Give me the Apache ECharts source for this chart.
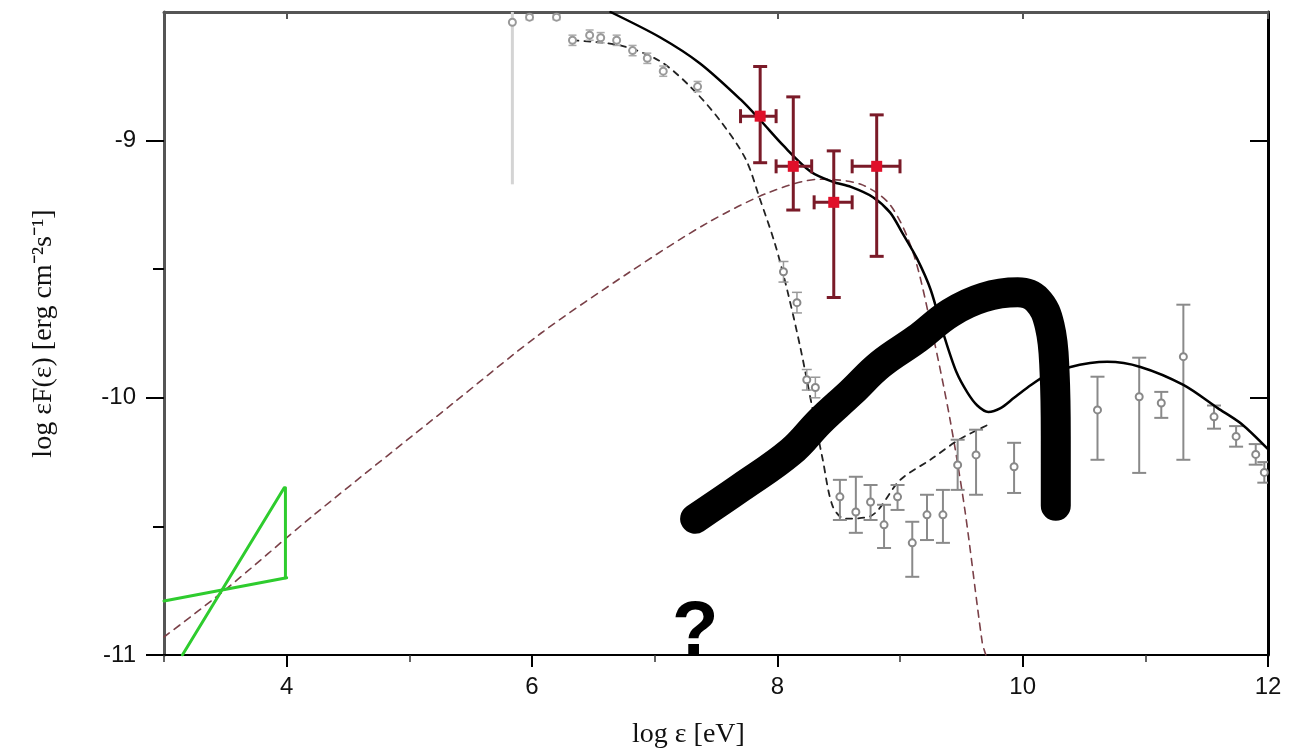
<!DOCTYPE html>
<html>
<head>
<meta charset="utf-8">
<script src="https://cdn.jsdelivr.net/npm/echarts@6/dist/echarts.min.js"></script>
<style>
html,body{margin:0;padding:0;background:#fff;}
#chart{width:1291px;height:750px;}
</style>
</head>
<body>
<div id="chart"></div>
<script>
// ---------- axis ticks ----------
const xMajorTicks = [4, 6, 8, 10, 12];
const xMinorTicks = [3, 5, 7, 9, 11];
const yMajorTicks = [-11, -10, -9];
const yMinorTicks = [-10.5, -9.5];

// ---------- model curves [log eps, log eF] ----------
const totalModel = [
  [6.64,-8.50],[7.05,-8.60],[7.37,-8.70],[7.70,-8.84],[7.86,-8.92],[8.05,-9.02],[8.27,-9.12],
  [8.45,-9.16],[8.60,-9.18],[8.78,-9.22],[8.92,-9.28],[9.02,-9.36],[9.14,-9.46],[9.25,-9.58],
  [9.36,-9.76],[9.46,-9.90],[9.55,-9.98],[9.63,-10.03],[9.72,-10.055],[9.82,-10.04],
  [9.93,-10.00],[10.04,-9.96],[10.20,-9.91],[10.39,-9.88],[10.55,-9.865],[10.69,-9.86],
  [10.96,-9.88],[11.31,-9.95],[11.59,-10.04],[11.78,-10.10],[12.0,-10.20]
];
const syncModel = [
  [6.33,-8.61],[6.72,-8.63],[7.04,-8.69],[7.29,-8.79],[7.53,-8.92],[7.74,-9.07],[7.86,-9.23],
  [7.98,-9.40],[8.08,-9.58],[8.19,-9.81],[8.29,-10.05],[8.37,-10.24],[8.45,-10.42],
  [8.55,-10.47],[8.76,-10.46],[9.00,-10.32],[9.25,-10.24],[9.49,-10.16],[9.74,-10.10]
];
const icModel = [
  [3.00,-10.93],[3.49,-10.75],[4.21,-10.46],[5.36,-10.02],[6.07,-9.75],[6.80,-9.51],
  [7.43,-9.32],[7.94,-9.20],[8.35,-9.15],[8.68,-9.17],[8.92,-9.25],[9.11,-9.44],
  [9.27,-9.76],[9.41,-10.09],[9.53,-10.44],[9.67,-10.95],[9.70,-11.0]
];
// ---------- thick sensitivity band ----------
const sensitivityBand = [
  [7.33,-10.47],[7.70,-10.35],[8.11,-10.21],[8.35,-10.09],[8.60,-9.98],[8.84,-9.87],
  [9.14,-9.77],[9.41,-9.67],[9.68,-9.61],[9.96,-9.59],[10.12,-9.62],[10.22,-9.72],
  [10.26,-9.90],[10.27,-10.15],[10.27,-10.42]
];
// ---------- green bowtie ----------
const bowtieFlat = [[3.00,-10.79],[4.00,-10.70]];
const bowtieSteep = [[3.15,-11.0],[3.98,-10.35]];
const bowtieEdge = [[3.99,-10.35],[3.99,-10.70]];

// ---------- red data points [x, y, ylo, yhi, xlo, xhi] ----------
const redPoints = [
  [7.86,-8.905,-9.086,-8.712,7.70,7.99],
  [8.13,-9.10,-9.27,-8.83,7.99,8.28],
  [8.46,-9.24,-9.61,-9.04,8.30,8.61],
  [8.81,-9.10,-9.45,-8.90,8.61,9.00]
];
// ---------- grey data points [x, y, ylo, yhi] ----------
const greyTop = [
  [5.98,-8.52,-8.53,-8.51],[6.20,-8.52,-8.53,-8.51],[6.33,-8.61,-8.63,-8.59],
  [6.47,-8.59,-8.61,-8.57],[6.56,-8.60,-8.62,-8.58],[6.69,-8.61,-8.63,-8.59],
  [6.82,-8.65,-8.67,-8.63],[6.94,-8.68,-8.70,-8.66],[7.07,-8.73,-8.75,-8.71],
  [7.35,-8.79,-8.81,-8.77]
];
const greyLimit = [[5.84,-8.54,-9.17,-8.50]];
const greyMid = [
  [8.05,-9.51,-9.55,-9.47],[8.16,-9.63,-9.67,-9.59],[8.24,-9.93,-9.97,-9.89],[8.31,-9.96,-10.0,-9.92]
];
const greyLow = [
  [8.51,-10.385,-10.475,-10.319],[8.64,-10.444,-10.525,-10.307],[8.76,-10.405,-10.475,-10.339],
  [8.87,-10.494,-10.584,-10.416],[8.98,-10.385,-10.436,-10.339],[9.10,-10.564,-10.696,-10.482],
  [9.22,-10.455,-10.553,-10.377],[9.35,-10.455,-10.564,-10.358],[9.47,-10.261,-10.358,-10.163],
  [9.62,-10.222,-10.377,-10.124],[9.93,-10.268,-10.370,-10.175]
];
const greyHigh = [
  [10.61,-10.047,-10.241,-9.918],[10.95,-9.996,-10.292,-9.844],[11.13,-10.02,-10.078,-9.977],
  [11.31,-9.84,-10.241,-9.638],[11.56,-10.074,-10.12,-10.03],[11.74,-10.15,-10.19,-10.11],
  [11.90,-10.22,-10.26,-10.18],[11.97,-10.29,-10.33,-10.25]
];
const questionMark = [[7.33,-11.0]];

// ---------- helpers ----------
function errorBarSeries(data, color, width, cap, z) {
  return {
    type: 'custom', data: data, z: z || 3, silent: true, clip: true,
    renderItem: function (params, api) {
      const x = api.value(0), y = api.value(1), ylo = api.value(2), yhi = api.value(3);
      const children = [];
      const pLo = api.coord([x, ylo]), pHi = api.coord([x, yhi]);
      const st = {stroke: color, lineWidth: width};
      children.push({type:'line', shape:{x1:pLo[0],y1:pLo[1],x2:pHi[0],y2:pHi[1]}, style:st});
      if (cap > 0) {
        children.push({type:'line', shape:{x1:pLo[0]-cap,y1:pLo[1],x2:pLo[0]+cap,y2:pLo[1]}, style:st});
        children.push({type:'line', shape:{x1:pHi[0]-cap,y1:pHi[1],x2:pHi[0]+cap,y2:pHi[1]}, style:st});
      }
      const xlo = api.value(4), xhi = api.value(5);
      if (xlo !== undefined && xlo !== null && !isNaN(xlo)) {
        const qLo = api.coord([xlo, y]), qHi = api.coord([xhi, y]);
        children.push({type:'line', shape:{x1:qLo[0],y1:qLo[1],x2:qHi[0],y2:qHi[1]}, style:st});
        children.push({type:'line', shape:{x1:qLo[0],y1:qLo[1]-cap,x2:qLo[0],y2:qLo[1]+cap}, style:st});
        children.push({type:'line', shape:{x1:qHi[0],y1:qHi[1]-cap,x2:qHi[0],y2:qHi[1]+cap}, style:st});
      }
      return {type:'group', children: children};
    },
    encode: {x: 0, y: 1}
  };
}
function pointSeries(data, symbol, size, color, z) {
  return {
    type: 'scatter', data: data.map(d => [d[0], d[1]]), symbol: symbol, symbolSize: size, z: z || 4,
    itemStyle: {color: color, borderWidth: 1.5, opacity: 1}, silent: true
  };
}
function lineSeries(data, color, width, type, z, smooth) {
  return {
    type: 'line', data: data, showSymbol: false, symbol: 'none', smooth: smooth === undefined ? 0.3 : smooth, z: z || 2,
    lineStyle: {color: color, width: width, type: type || 'solid', cap: 'round', join: 'round'}, silent: true
  };
}

const chart = echarts.init(document.getElementById('chart'), null, {renderer: 'canvas'});
const grid = {left: 164, right: 23, top: 12, bottom: 95, containLabel: false, outerBoundsMode: 'none'};
const tickFont = {fontFamily: 'Liberation Sans, Arial, sans-serif', fontSize: 24, color: '#111'};
const nameFont = {fontFamily: 'Liberation Serif, Times New Roman, serif', fontSize: 28, color: '#111'};

const option = {
  backgroundColor: '#fff',
  animation: false,
  grid: grid,
  xAxis: [
    {
      type: 'value', min: 3, max: 12, position: 'bottom',
      name: 'log ε [eV]', nameLocation: 'middle', nameGap: 66,
      nameTextStyle: Object.assign({padding: [0, 55, 0, 0]}, nameFont),
      axisLine: {show: true, onZero: false, lineStyle: {color: '#000', width: 2}},
      axisTick: {show: true, inside: false, length: 12, lineStyle: {color: '#000', width: 2}, customValues: xMajorTicks},
      axisLabel: Object.assign({show: true, margin: 20, customValues: xMajorTicks}, tickFont),
      splitLine: {show: false}
    },
    {
      type: 'value', min: 3, max: 12, position: 'bottom',
      axisLine: {show: false, onZero: false},
      axisTick: {show: true, inside: false, length: 7, lineStyle: {color: '#333', width: 1.5}, customValues: xMinorTicks},
      axisLabel: {show: false}, splitLine: {show: false}
    },
    {
      type: 'value', min: 3, max: 12, position: 'top',
      axisLine: {show: true, onZero: false, lineStyle: {color: '#555', width: 3}},
      axisTick: {show: true, inside: true, length: 7, lineStyle: {color: '#555', width: 2}, customValues: xMajorTicks},
      axisLabel: {show: false}, splitLine: {show: false}
    }
  ],
  yAxis: [
    {
      type: 'value', min: -11, max: -8.5, position: 'left',
      name: 'log εF(ε) [erg cm⁻²s⁻¹]', nameLocation: 'middle', nameGap: 106, nameRotate: 90,
      nameTextStyle: nameFont,
      axisLine: {show: true, onZero: false, lineStyle: {color: '#555', width: 3}},
      axisTick: {show: true, inside: false, length: 18, lineStyle: {color: '#000', width: 2}, customValues: yMajorTicks},
      axisLabel: Object.assign({show: true, margin: 28, customValues: yMajorTicks}, tickFont),
      splitLine: {show: false}
    },
    {
      type: 'value', min: -11, max: -8.5, position: 'left',
      axisLine: {show: false, onZero: false},
      axisTick: {show: true, inside: false, length: 11, lineStyle: {color: '#000', width: 2}, customValues: yMinorTicks},
      axisLabel: {show: false}, splitLine: {show: false}
    },
    {
      type: 'value', min: -11, max: -8.5, position: 'right',
      axisLine: {show: true, onZero: false, lineStyle: {color: '#000', width: 3}},
      axisTick: {show: true, inside: true, length: 18, lineStyle: {color: '#000', width: 2}, customValues: yMajorTicks},
      axisLabel: {show: false}, splitLine: {show: false}
    }
  ],
  series: [
    lineSeries(icModel, '#7a4048', 1.6, [7, 6], 2),
    lineSeries(syncModel, '#222', 1.8, [6, 6], 2),
    errorBarSeries(greyLimit, '#d4d4d4', 3, 0, 1),
    errorBarSeries(greyTop, '#aaa', 1.5, 4, 3),
    errorBarSeries(greyMid, '#999', 1.5, 5, 3),
    errorBarSeries(greyLow, '#8a8a8a', 2, 7, 3),
    errorBarSeries(greyHigh, '#8a8a8a', 2, 7, 3),
    pointSeries(greyLimit, 'emptyCircle', 7, '#999', 4),
    pointSeries(greyTop, 'emptyCircle', 7, '#999', 4),
    pointSeries(greyMid, 'emptyCircle', 7, '#888', 4),
    pointSeries(greyLow, 'emptyCircle', 7, '#888', 4),
    pointSeries(greyHigh, 'emptyCircle', 7, '#888', 4),
    lineSeries(totalModel, '#000', 2.5, 'solid', 5),
    lineSeries(sensitivityBand, '#000', 30, 'solid', 6, 0.4),
    lineSeries(bowtieFlat, '#2ecc2e', 3, 'solid', 5, false),
    lineSeries(bowtieSteep, '#2ecc2e', 3, 'solid', 5, false),
    lineSeries(bowtieEdge, '#2ecc2e', 3, 'solid', 5, false),
    errorBarSeries(redPoints, '#7a1a28', 3, 7, 7),
    pointSeries(redPoints, 'rect', 11, '#e0102a', 8),
    {
      type: 'scatter', data: questionMark, symbolSize: 0, z: 9, silent: true,
      itemStyle: {opacity: 1},
      label: {show: true, position: 'top', distance: -16, formatter: '?',
        fontFamily: 'Liberation Sans, Arial, sans-serif', fontWeight: 'bold', fontSize: 76, color: '#000'}
    }
  ]
};
chart.setOption(option);
</script>
</body>
</html>
